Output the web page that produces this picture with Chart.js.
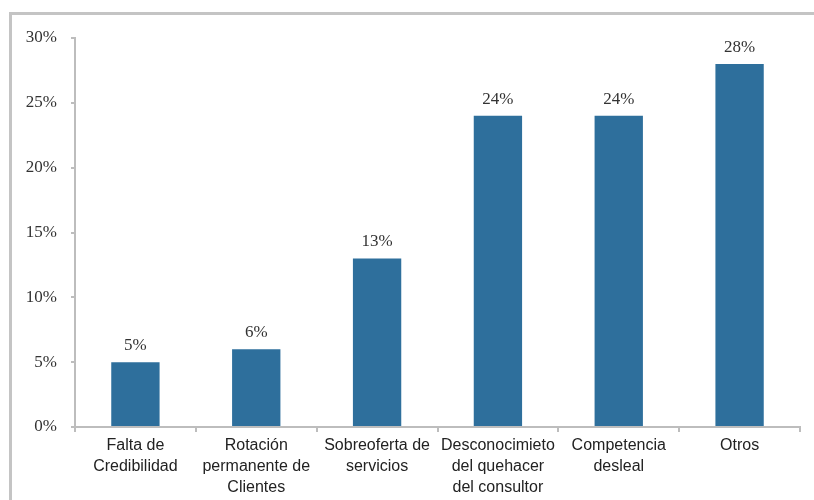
<!DOCTYPE html>
<html>
<head>
<meta charset="utf-8">
<script src="https://cdn.jsdelivr.net/npm/chart.js@4"></script>
<style>
  html, body { margin: 0; padding: 0; background: #fff; overflow: hidden; }
  canvas { display: block; }
</style>
</head>
<body>
<canvas id="grafico" width="814" height="500"></canvas>
<script>
const categorias = [
  ['Falta de', 'Credibilidad'],
  ['Rotación', 'permanente de', 'Clientes'],
  ['Sobreoferta de', 'servicios'],
  ['Desconocimieto', 'del quehacer', 'del consultor'],
  ['Competencia', 'desleal'],
  ['Otros'],
];
const valores = [5, 6, 13, 24, 24, 28];
const marcasY = [0, 5, 10, 15, 20, 25, 30];

// marco gris del área del gráfico (solo arriba e izquierda)
const marco = {
  id: 'marco',
  beforeDraw(chart) {
    const { ctx, width, height } = chart;
    ctx.save();
    ctx.strokeStyle = '#c4c4c4';
    ctx.lineWidth = 3;
    ctx.beginPath();
    ctx.moveTo(10.5, height);
    ctx.lineTo(10.5, 13.5);
    ctx.lineTo(width, 13.5);
    ctx.stroke();
    ctx.restore();
  }
};

// etiquetas de porcentaje encima de cada barra
const etiquetasBarras = {
  id: 'etiquetasBarras',
  afterDatasetsDraw(chart) {
    const { ctx } = chart;
    const meta = chart.getDatasetMeta(0);
    ctx.save();
    ctx.font = '17px "Liberation Serif"';
    ctx.fillStyle = '#333';
    ctx.textAlign = 'center';
    ctx.textBaseline = 'bottom';
    meta.data.forEach((bar, i) => {
      ctx.fillText(valores[i] + '%', bar.x, bar.y - 8);
    });
    ctx.restore();
  }
};

const ctx = document.getElementById('grafico');

const myChart = new Chart(ctx, {
  type: 'bar',
  data: {
    labels: categorias,
    datasets: [{
      label: 'Porcentaje',
      data: valores,
      backgroundColor: '#2e6f9c',
      barPercentage: 0.40,
      categoryPercentage: 1.0,
    }],
  },
  options: {
    responsive: false,
    animation: false,
    layout: { padding: { top: 38, right: 14, left: 0, bottom: 0 } },
    plugins: {
      legend: { display: false },
      tooltip: { enabled: false },
    },
    scales: {
      x: {
        grid: { drawOnChartArea: false, drawTicks: true, tickLength: 5, color: '#bdbdbd', lineWidth: 2 },
        border: { color: '#bdbdbd', width: 2 },
        ticks: {
          color: '#222',
          font: { family: '"Liberation Sans"', size: 16, lineHeight: 1.32 },
          padding: 3,
          maxRotation: 0,
          autoSkip: false,
        },
        afterFit(scale) { scale.height = 73; },
      },
      y: {
        min: 0,
        max: 30,
        afterBuildTicks(scale) { scale.ticks = marcasY.map(v => ({ value: v })); },
        grid: { drawOnChartArea: false, drawTicks: true, tickLength: 4, color: '#bdbdbd', lineWidth: 2 },
        border: { color: '#bdbdbd', width: 2 },
        ticks: {
          color: '#333',
          font: { family: '"Liberation Serif"', size: 17 },
          padding: 14,
          callback: v => v + '%',
        },
        afterFit(scale) { scale.width = 75; },
      },
    },
  },
  plugins: [marco, etiquetasBarras],
});
</script>
</body>
</html>
